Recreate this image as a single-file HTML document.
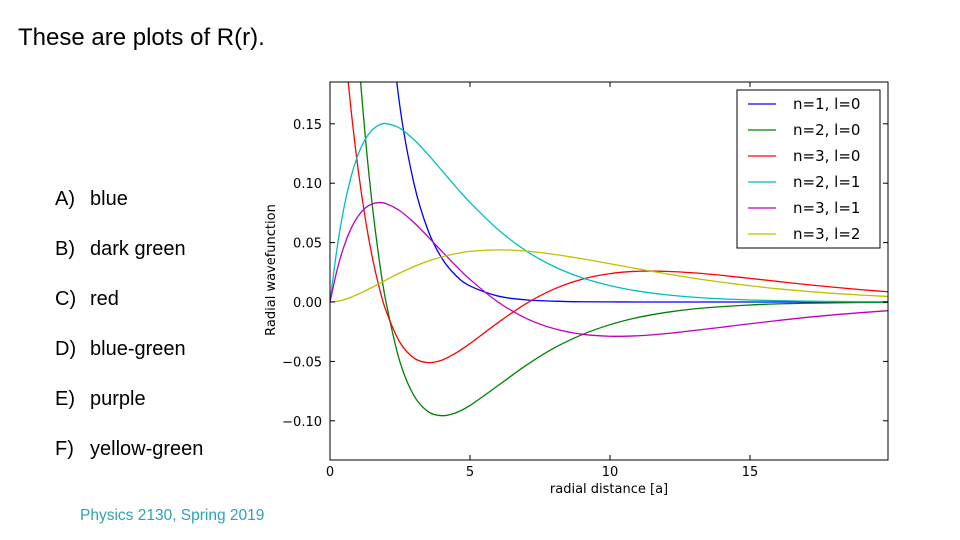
<!DOCTYPE html>
<html><head><meta charset="utf-8"><style>
body{margin:0;width:960px;height:540px;background:#fff;overflow:hidden;position:relative;font-family:"Liberation Sans",sans-serif}
.t{position:absolute;white-space:nowrap;color:#000}
.o{font-size:20px}
.o span{display:inline-block;width:35px}
</style></head><body>
<div class="t" style="left:18px;top:24px;font-size:24px">These are plots of R(r).</div>
<div class="t o" style="left:55px;top:188px"><span>A)</span>blue</div>
<div class="t o" style="left:55px;top:238px"><span>B)</span>dark green</div>
<div class="t o" style="left:55px;top:288px"><span>C)</span>red</div>
<div class="t o" style="left:55px;top:338px"><span>D)</span>blue-green</div>
<div class="t o" style="left:55px;top:388px"><span>E)</span>purple</div>
<div class="t o" style="left:55px;top:438px"><span>F)</span>yellow-green</div>
<div class="t" style="left:80px;top:507px;font-size:15.5px;color:#2aa3b5">Physics 2130, Spring 2019</div>
<svg id="chart" width="960" height="540" style="position:absolute;left:0;top:0" font-family="DejaVu Sans, Liberation Sans, sans-serif"></svg>
<script>
const rVals=[0,0.25,0.5,0.75,1,1.25,1.5,1.75,2,2.5,3,3.5,4,4.5,5,6,7,8,9,10,11,12,13,14,15,16,17,18,19,20];
const sR10=[2,1.558,1.213,0.945,0.736,0.573,0.446,0.348,0.271,0.164,0.0996,0.0604,0.0366,0.0222,0.0135,0.005,0.0018,0.0007,0.0002,0.0001,0,0,0,0,0,0,0,0,0,0];
const sR20=[0.707,0.546,0.413,0.304,0.214,0.142,0.0835,0.0368,0,-0.0506,-0.0789,-0.0922,-0.0957,-0.0932,-0.0871,-0.0704,-0.0534,-0.0388,-0.0275,-0.0191,-0.013,-0.0088,-0.0058,-0.0039,-0.0025,-0.0016,-0.001,-0.0007,-0.0004,-0.0003];
const sR30=[0.3849,0.2967,0.2232,0.1624,0.1124,0.0717,0.0389,0.0129,-0.0073,-0.0341,-0.0472,-0.051,-0.0489,-0.0429,-0.035,-0.0174,-0.0014,0.0109,0.0192,0.0239,0.0259,0.0258,0.0245,0.0224,0.0199,0.0173,0.0147,0.0124,0.0103,0.0085];
const sR21=[0,0.045,0.0795,0.1052,0.1238,0.1366,0.1446,0.1489,0.1502,0.1462,0.1366,0.1242,0.1105,0.0968,0.0838,0.061,0.0431,0.0299,0.0204,0.0138,0.0092,0.0061,0.004,0.0026,0.0017,0.0011,0.0007,0.0005,0.0003,0.0002];
const sR31=[0,0.0267,0.0469,0.0618,0.0722,0.0789,0.0825,0.0837,0.0828,0.0767,0.0668,0.0549,0.0425,0.0304,0.019,0,-0.0137,-0.0224,-0.0271,-0.0288,-0.0284,-0.0266,-0.024,-0.0212,-0.0183,-0.0156,-0.013,-0.0108,-0.0089,-0.0072];
const sR32=[0,0.0005,0.0019,0.004,0.0065,0.0093,0.0123,0.0154,0.0185,0.0245,0.0298,0.0344,0.038,0.0407,0.0426,0.0439,0.0429,0.0401,0.0364,0.0322,0.0279,0.0238,0.02,0.0166,0.0137,0.0111,0.009,0.0072,0.0058,0.0046];
const seriesLabels=["n=1, l=0","n=2, l=0","n=3, l=0","n=2, l=1","n=3, l=1","n=3, l=2"];
const seriesColors=["#0000ff","#008000","#ff0000","#00bfbf","#bf00bf","#bfbf00"];
const xTicks=[0,5,10,15];
const yTicks=[-0.10,-0.05,0.00,0.05,0.10,0.15];
const yTickLabels=["\u22120.10","\u22120.05","0.00","0.05","0.10","0.15"];

const NS="http://www.w3.org/2000/svg";
const svg=document.getElementById('chart');
const L=330,R=888,T=82,B=460;
const xs=r=>L+r*28;
const ys=v=>302-v*1188;
function mk(tag,attrs,parent){const e=document.createElementNS(NS,tag);for(const k in attrs)e.setAttribute(k,attrs[k]);(parent||svg).appendChild(e);return e;}
const defs=mk('defs',{});
const cp=mk('clipPath',{id:'pc'},defs);mk('rect',{x:L,y:T,width:R-L,height:B-T},cp);
const bg=mk('rect',{x:L,y:T,width:R-L,height:B-T,fill:'#fff'});


const all=[sR10,sR20,sR30,sR21,sR31,sR32];
function pathD(vals){
  const p=rVals.map((r,i)=>[xs(r),ys(vals[i])]);
  let d='M'+p[0][0]+','+p[0][1];
  for(let i=0;i<p.length-1;i++){
    const p0=p[Math.max(0,i-1)],p1=p[i],p2=p[i+1],p3=p[Math.min(p.length-1,i+2)];
    const c1=[p1[0]+(p2[0]-p0[0])/6,p1[1]+(p2[1]-p0[1])/6];
    const c2=[p2[0]-(p3[0]-p1[0])/6,p2[1]-(p3[1]-p1[1])/6];
    d+=' C'+c1[0]+','+c1[1]+' '+c2[0]+','+c2[1]+' '+p2[0]+','+p2[1];
  }
  return d;
}
const g=mk('g',{'clip-path':'url(#pc)'});
all.forEach((vals,i)=>{
  const el=mk('path',{d:pathD(vals),fill:'none',stroke:seriesColors[i],'stroke-width':1.3},g);
  
  
});
mk('rect',{x:L,y:T,width:R-L,height:B-T,fill:'none',stroke:'#000','stroke-width':1});
xTicks.forEach(v=>{
  const x=xs(v);
  mk('line',{x1:x,x2:x,y1:B,y2:B-5,stroke:'#000'});
  mk('line',{x1:x,x2:x,y1:T,y2:T+5,stroke:'#000'});
  const t=mk('text',{x:x,y:B+16,'text-anchor':'middle','font-size':13});
  t.textContent=v;
  
  
});
yTicks.forEach((v,i)=>{
  const y=ys(v);
  mk('line',{x1:L,x2:L+5,y1:y,y2:y,stroke:'#000'});
  mk('line',{x1:R,x2:R-5,y1:y,y2:y,stroke:'#000'});
  const t=mk('text',{x:L-8,y:y+5,'text-anchor':'end','font-size':13});
  t.textContent=yTickLabels[i];
  
  
});
const xt=mk('text',{x:609,y:493,'text-anchor':'middle','font-size':13});
xt.textContent='radial distance [a]';


const yt=mk('text',{x:0,y:0,'text-anchor':'middle','font-size':13,transform:'translate(275,270) rotate(-90)'});
yt.textContent='Radial wavefunction';


const lg=mk('g',{});


mk('rect',{x:737,y:90,width:143,height:158,fill:'#fff',stroke:'#000'},lg);
seriesLabels.forEach((s,i)=>{
  const y=104+i*26;
  mk('line',{x1:748,x2:776,y1:y,y2:y,stroke:seriesColors[i],'stroke-width':1.3},lg);
  const t=mk('text',{x:793,y:y+5,'font-size':15},lg);
  t.textContent=s;
  
  
});
</script>
</body></html>
